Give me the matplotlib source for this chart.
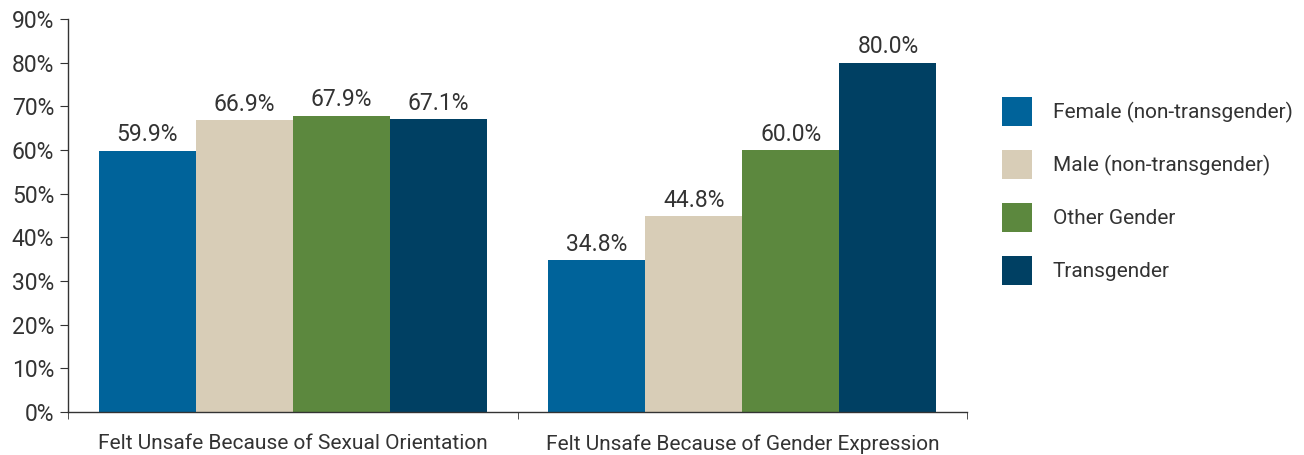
import matplotlib
matplotlib.use("Agg")
import matplotlib.pyplot as plt
import numpy as np

plt.rcParams['font.family'] = ['Roboto', 'DejaVu Sans']

categories = ["Felt Unsafe Because of Sexual Orientation",
              "Felt Unsafe Because of Gender Expression"]
series_names = ["Female (non-transgender)", "Male (non-transgender)",
                "Other Gender", "Transgender"]
values = {
    "Female (non-transgender)": [59.9, 34.8],
    "Male (non-transgender)": [66.9, 44.8],
    "Other Gender": [67.9, 60.0],
    "Transgender": [67.1, 80.0],
}
colors = ["#00639a", "#d8cdb7", "#5c883e", "#004063"]
text_color = "#333333"

fig = plt.figure(figsize=(13.04, 4.55), dpi=100)
ax = fig.add_axes([0.0522, 0.0945, 0.6894, 0.8635])

x = np.arange(len(categories))
width = 0.216
for i, name in enumerate(series_names):
    offs = (i - 1.5) * width
    bars = ax.bar(x + offs, values[name], width, color=colors[i], label=name)
    for b, v in zip(bars, values[name]):
        ax.text(b.get_x() + b.get_width() / 2, v + 1.0, "{:.1f}%".format(v),
                ha="center", va="bottom", fontsize=16.5, color=text_color)

ax.set_xlim(-0.5, 1.5)
ax.set_ylim(0, 90)
ax.set_yticks(np.arange(0, 91, 10))
ax.set_yticklabels(["{}%".format(t) for t in range(0, 91, 10)])
ax.set_xticks(x)
ax.set_xticklabels(categories)
ax.set_xticks([-0.5, 0.5, 1.5], minor=True)
ax.tick_params(axis="x", which="major", length=0, pad=16, labelsize=15, labelcolor=text_color)
ax.tick_params(axis="x", which="minor", length=5, direction="out", color=text_color)
ax.tick_params(axis="y", length=6, direction="out", labelsize=16.5, labelcolor=text_color,
               color=text_color, pad=4)

for side in ["top", "right"]:
    ax.spines[side].set_visible(False)
for side in ["left", "bottom"]:
    ax.spines[side].set_color(text_color)
    ax.spines[side].set_linewidth(1.0)

fig.legend(loc="upper left", bbox_to_anchor=(0.762, 0.806), frameon=False,
           handlelength=1.44, handleheight=1.78, handletextpad=1.0,
           labelspacing=1.15, fontsize=15, labelcolor=text_color, borderaxespad=0)

fig.savefig("out.png", dpi=100)
